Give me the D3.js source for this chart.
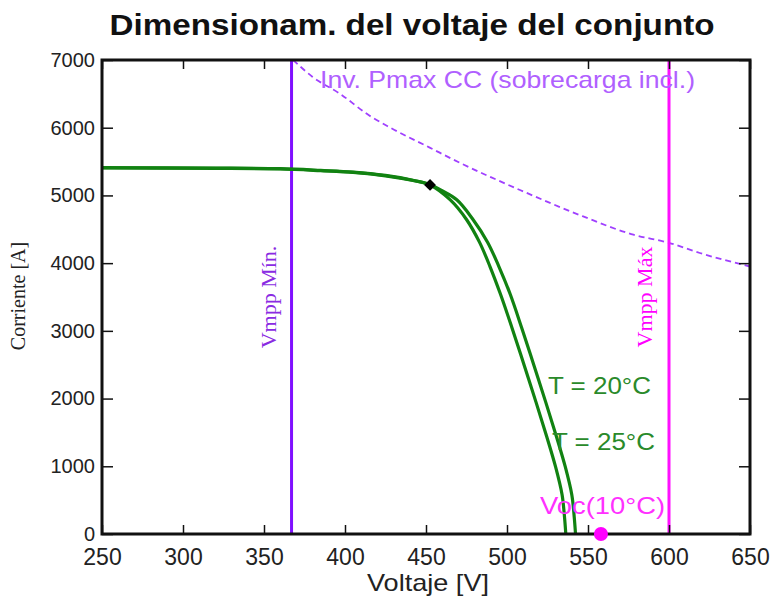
<!DOCTYPE html>
<html>
<head>
<meta charset="utf-8">
<script src="https://cdn.jsdelivr.net/npm/d3@7"></script>
<style>
  body { margin: 0; background: #fff; }
  svg { display: block; }
  text { font-family: "Liberation Sans", Arial, sans-serif; }
</style>
</head>
<body>
<div id="chart"></div>
<script>
// Curva I-V a 25°C (voltaje, corriente)
const curveT25 = [
    [250, 5405], [320, 5400], [360, 5390], [385, 5365], [405, 5340], [425, 5290], [442, 5220],
    [452.5, 5155], [465, 4935], [475, 4645], [483, 4310], [489.5, 3950], [496, 3540],
    [503, 3050], [510.5, 2500], [518, 1940], [524.5, 1440], [530, 990], [534, 580],
    [535.5, 250], [536.3, 0]
];
// Curva I-V a 20°C
const curveT20 = [
    [250, 5410], [320, 5405], [360, 5395], [385, 5370], [405, 5345], [425, 5295], [442, 5225],
    [452.5, 5160], [459, 5080], [469, 4935], [479, 4645], [488, 4310], [495, 3950],
    [502, 3540], [509, 3050], [516.5, 2500], [524, 1940], [530.5, 1440], [536, 990],
    [540, 580], [541.5, 250], [542.3, 0]
];
// Límite del inversor (potencia máxima CC)
const invPmax = [
    [368, 7000], [380, 6750], [397, 6500], [415, 6180], [428, 6000], [452, 5710],
    [471, 5480], [490, 5270], [508, 5080], [547, 4690], [578, 4420], [600, 4300],
    [619, 4150], [650, 3950]
];
const vmppMin = 367;
const vmppMax = 600;
const vocCold = 558;
const mpp = [452.5, 5155];

const xTicks = [250, 300, 350, 400, 450, 500, 550, 600, 650];
const yTicks = [0, 1000, 2000, 3000, 4000, 5000, 6000, 7000];

const svg = d3.select("#chart").append("svg")
    .attr("width", 776)
    .attr("height", 597);

const margin = { top: 60, right: 26, bottom: 63, left: 102 };
const width = 776 - margin.left - margin.right;
const height = 597 - margin.top - margin.bottom;

const g = svg.append("g").attr("transform", `translate(${margin.left},${margin.top})`);

const x = d3.scaleLinear().domain([250, 650]).range([0, width]);
const y = d3.scaleLinear().domain([0, 7000]).range([height, 0]);

// title
svg.append("text")
    .attr("x", 412).attr("y", 35)
    .attr("text-anchor", "middle")
    .attr("textLength", 605)
    .attr("lengthAdjust", "spacingAndGlyphs")
    .style("font-size", "29px")
    .style("font-weight", "bold")
    .style("fill", "#111")
    .text("Dimensionam. del voltaje del conjunto");

// clip for plot contents
svg.append("defs").append("clipPath").attr("id", "clip")
    .append("rect").attr("width", width).attr("height", height);

const plot = g.append("g").attr("clip-path", "url(#clip)");

// inverter limit dashed
plot.append("path")
    .datum(invPmax)
    .attr("fill", "none")
    .attr("stroke", "#a040ff")
    .attr("stroke-width", 1.8)
    .attr("stroke-dasharray", "6,4")
    .attr("d", d3.line().x(d => x(d[0])).y(d => y(d[1])).curve(d3.curveMonotoneX));

// vertical lines
plot.append("line")
    .attr("x1", x(vmppMin)).attr("x2", x(vmppMin))
    .attr("y1", 0).attr("y2", height)
    .attr("stroke", "#8010ff").attr("stroke-width", 3);
plot.append("line")
    .attr("x1", x(vmppMax)).attr("x2", x(vmppMax))
    .attr("y1", 0).attr("y2", height)
    .attr("stroke", "#ff10ff").attr("stroke-width", 3);

// IV curves
[curveT25, curveT20].forEach(c => {
    plot.append("path")
        .datum(c)
        .attr("fill", "none")
        .attr("stroke", "#118211")
        .attr("stroke-width", 3.2)
        .attr("d", d3.line().x(d => x(d[0])).y(d => y(d[1])).curve(d3.curveCatmullRom));
});

// MPP marker
g.append("path")
    .attr("transform", `translate(${x(mpp[0])},${y(mpp[1])}) rotate(45)`)
    .attr("d", d3.symbol().type(d3.symbolSquare).size(70))
    .attr("fill", "#000");

// labels
g.append("text")
    .attr("x", 218).attr("y", 28)
    .attr("textLength", 375)
    .attr("lengthAdjust", "spacingAndGlyphs")
    .style("font-size", "24px").style("fill", "#b060ff")
    .text("Inv. Pmax CC (sobrecarga incl.)");

g.append("text")
    .attr("transform", `translate(${x(vmppMin) - 16},${237}) rotate(-90)`)
    .attr("text-anchor", "middle")
    .style("font-family", "'Liberation Serif', 'DejaVu Serif', serif")
    .style("font-size", "22px").style("fill", "#8a2be2")
    .text("Vmpp Mín.");

g.append("text")
    .attr("transform", `translate(${x(vmppMax) - 17},${237}) rotate(-90)`)
    .attr("text-anchor", "middle")
    .style("font-family", "'Liberation Serif', 'DejaVu Serif', serif")
    .style("font-size", "22px").style("fill", "#ff00ff")
    .text("Vmpp Máx");

g.append("text")
    .attr("x", 446).attr("y", 334)
    .attr("textLength", 103)
    .attr("lengthAdjust", "spacingAndGlyphs")
    .style("font-size", "24px").style("fill", "#2a8a2a")
    .text("T = 20°C");
g.append("text")
    .attr("x", 450).attr("y", 390)
    .attr("textLength", 103)
    .attr("lengthAdjust", "spacingAndGlyphs")
    .style("font-size", "24px").style("fill", "#2a8a2a")
    .text("T = 25°C");
g.append("text")
    .attr("x", 438).attr("y", 454)
    .attr("textLength", 125)
    .attr("lengthAdjust", "spacingAndGlyphs")
    .style("font-size", "24px").style("fill", "#ff30ff")
    .text("Voc(10°C)");

// axes with inward ticks
const xMinor = d3.range(250, 651, 10);
const yMinor = d3.range(0, 7001, 500);

const axisBottom = g.append("g").attr("class", "x-axis").attr("transform", `translate(0,${height})`);
axisBottom.call(d3.axisBottom(x).tickValues(xMinor).tickSize(-4).tickFormat(""));
axisBottom.call(d3.axisBottom(x).tickValues(xTicks).tickSize(-9).tickPadding(15).tickFormat(d3.format("d")));

const axisTop = g.append("g");
axisTop.call(d3.axisTop(x).tickValues(xMinor).tickSize(-4).tickFormat(""));
axisTop.call(d3.axisTop(x).tickValues(xTicks).tickSize(-9).tickFormat(""));

const axisLeft = g.append("g").attr("class", "y-axis");
axisLeft.call(d3.axisLeft(y).tickValues(yMinor).tickSize(-5).tickFormat(""));
axisLeft.call(d3.axisLeft(y).tickValues(yTicks).tickSize(-11).tickPadding(7).tickFormat(d3.format("d")));

const axisRight = g.append("g").attr("transform", `translate(${width},0)`);
axisRight.call(d3.axisRight(y).tickValues(yMinor).tickSize(-5).tickFormat(""));
axisRight.call(d3.axisRight(y).tickValues(yTicks).tickSize(-11).tickFormat(""));

g.selectAll(".domain").remove();
g.selectAll(".tick line").attr("stroke", "#111").attr("stroke-width", 1.5);
g.selectAll(".tick text")
    .style("font-family", "'Liberation Sans', Arial, sans-serif")
    .attr("fill", "#222");
g.selectAll(".y-axis .tick text").style("font-size", "20px");
g.selectAll(".x-axis .tick text").style("font-size", "23px");

// frame
g.append("rect")
    .attr("width", width).attr("height", height)
    .attr("fill", "none")
    .attr("stroke", "#111")
    .attr("stroke-width", 3);

// Voc dot on top of the axis line
g.append("circle")
    .attr("cx", x(vocCold)).attr("cy", y(0))
    .attr("r", 7)
    .attr("fill", "#ff00ff");

// axis titles
svg.append("text")
    .attr("x", 428).attr("y", 591)
    .attr("text-anchor", "middle")
    .attr("textLength", 122)
    .attr("lengthAdjust", "spacingAndGlyphs")
    .style("font-size", "24px").style("fill", "#222")
    .text("Voltaje [V]");

svg.append("text")
    .attr("transform", "translate(25,296) rotate(-90)")
    .attr("text-anchor", "middle")
    .style("font-family", "'Liberation Serif', 'DejaVu Serif', serif")
    .style("font-size", "20px").style("fill", "#222")
    .text("Corriente [A]");
</script>
</body>
</html>
